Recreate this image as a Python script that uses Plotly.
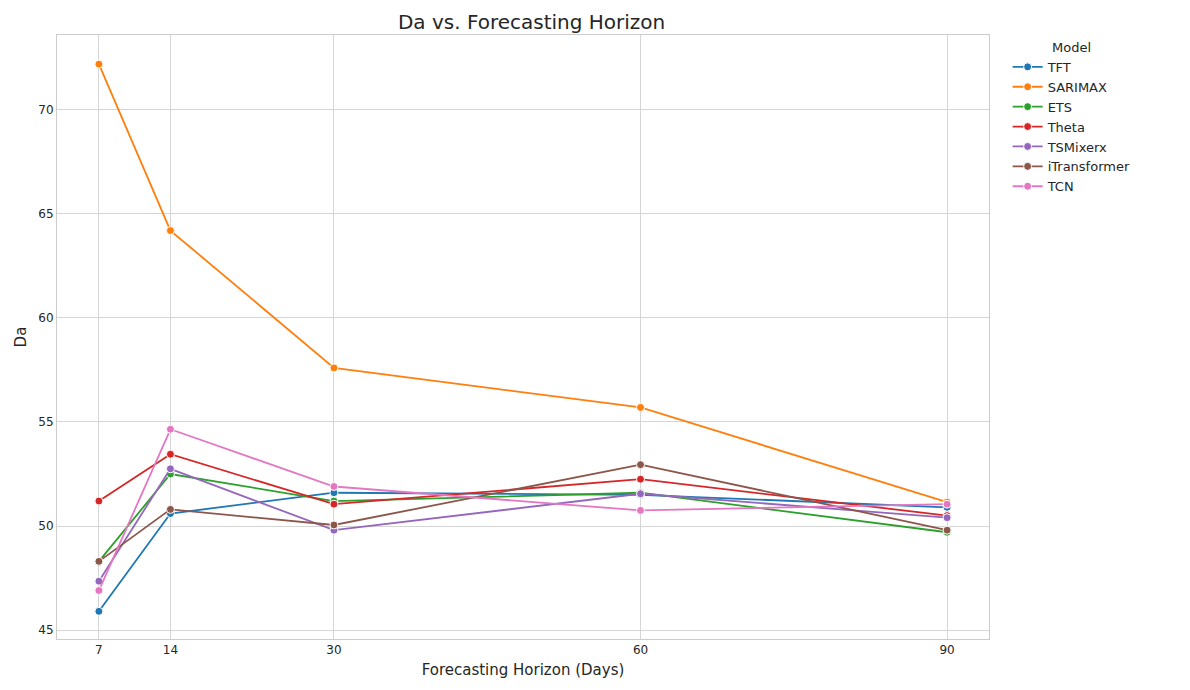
import plotly.graph_objects as go

horizons = [7, 14, 30, 60, 90]
models = ["TFT", "SARIMAX", "ETS", "Theta", "TSMixerx", "iTransformer", "TCN"]
tft = [45.9, 50.6, 51.6, 51.5, 50.9]
sarimax = [72.2, 64.2, 57.6, 55.7, 51.15]
ets = [48.3, 52.5, 51.2, 51.6, 49.7]
theta = [51.2, 53.45, 51.05, 52.25, 50.5]
tsmixerx = [47.35, 52.75, 49.8, 51.55, 50.4]
itransformer = [48.3, 50.8, 50.05, 52.95, 49.8]
tcn = [46.9, 54.65, 51.9, 50.75, 51.05]
colors = ["#1f77b4", "#ff7f0e", "#2ca02c", "#d62728", "#9467bd", "#8c564b", "#e377c2"]

series = [tft, sarimax, ets, theta, tsmixerx, itransformer, tcn]

fig = go.Figure()
for name, vals, c in zip(models, series, colors):
    fig.add_trace(go.Scatter(
        x=horizons, y=vals, name=name, mode="lines+markers",
        line=dict(color=c, width=1.8),
        marker=dict(size=8, color=c, line=dict(color="white", width=1)),
    ))

axis_style = dict(showgrid=True, gridcolor="#d5d5d5", gridwidth=1, zeroline=False,
                  showline=True, linecolor="#cccccc", linewidth=1, mirror=True,
                  ticks="", tickfont=dict(size=12, color="#262626"))

fig.update_layout(
    width=1190, height=690,
    paper_bgcolor="white", plot_bgcolor="white",
    font=dict(family="DejaVu Sans", color="#262626"),
    title=dict(text="Da vs. Forecasting Horizon", x=0.44, xanchor="center", y=0.99,
               yanchor="top", font=dict(size=20)),
    margin=dict(l=49, r=209, t=27, b=59),
    legend=dict(title=dict(text="Model", side="top center", font=dict(size=13)),
                x=1.02, y=1.0, xanchor="left", yanchor="top",
                font=dict(size=13), bgcolor="rgba(0,0,0,0)"),
    xaxis=dict(axis_style, range=[2.9, 94.1], tickvals=horizons,
               title=dict(text="Forecasting Horizon (Days)", font=dict(size=15), standoff=8)),
    yaxis=dict(axis_style, range=[44.57, 73.6], tickvals=[45, 50, 55, 60, 65, 70],
               title=dict(text="Da", font=dict(size=15), standoff=8)),
)

fig.write_html("out.html")
